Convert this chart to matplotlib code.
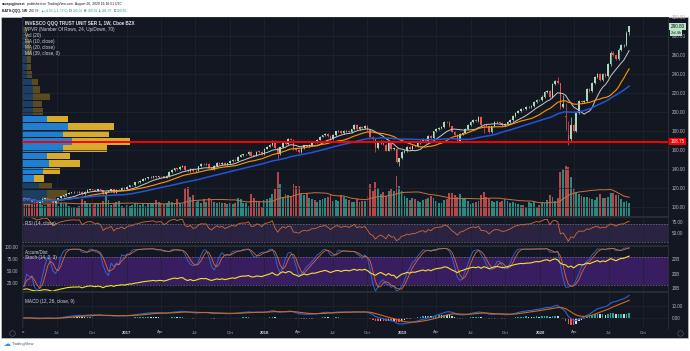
import numpy as np
import pandas as pd
import matplotlib
matplotlib.use("Agg")
import matplotlib.pyplot as plt
import matplotlib.dates as mdates
import matplotlib.transforms as mtransforms
from matplotlib.lines import Line2D
from matplotlib.patches import Rectangle
from matplotlib.ticker import FixedLocator, FixedFormatter

plt.rcParams['font.family'] = ['Liberation Sans', 'DejaVu Sans']

# BATS:QQQ weekly closes, week of 2016-04-04 .. week of 2020-08-24
closes_2016 = [107.6, 109.2, 108.0, 105.6,
               105.1, 104.3, 105.6, 108.8, 109.0,
               108.7, 106.9, 104.4, 107.3,
               109.0, 111.3, 112.4, 114.0,
               114.9, 115.4, 115.8, 115.6, 116.2,
               113.5, 116.0, 118.2, 118.7,
               118.3, 117.3, 118.8, 117.7, 113.7,
               116.3, 116.6, 118.8, 114.9,
               118.0, 118.2, 120.2, 118.5]
closes_2017 = [121.3, 123.0, 123.1, 125.9, 126.4,
               127.9, 129.6, 130.3, 131.2,
               131.6, 132.2, 131.4, 132.4,
               132.3, 130.8, 132.7, 137.0,
               139.1, 140.7, 139.8, 142.5, 143.2,
               138.9, 137.9, 140.1, 137.6,
               138.4, 142.8, 145.2, 145.0, 145.2,
               141.6, 140.0, 143.1, 146.4,
               145.0, 146.9, 144.6, 146.0,
               148.5, 149.8, 149.0, 153.1, 155.0,
               155.4, 155.5, 157.9, 154.3,
               154.2, 158.5, 158.2, 156.1]
closes_2018 = [161.7, 163.7, 165.4, 169.9, 162.0,
               155.5, 162.8, 168.6, 166.2,
               172.0, 171.2, 160.7, 160.2,
               158.3, 162.5, 165.0, 163.8, 165.4,
               169.1, 168.9, 171.2, 174.3,
               175.6, 176.9, 174.6, 171.6,
               175.7, 179.8, 180.0, 178.0, 180.0,
               180.5, 179.2, 181.8, 186.3,
               182.0, 184.4, 183.4, 185.8,
               180.9, 174.0, 171.6, 162.4, 167.2,
               169.9, 165.9, 159.4, 168.6,
               161.4, 161.5, 147.6, 151.2, 158.2]
closes_2019 = [159.2, 163.6, 161.3, 164.7,
               164.5, 167.6, 170.0, 171.8,
               168.3, 175.2, 172.8, 179.7,
               182.3, 183.2, 184.2, 189.6, 189.4,
               185.0, 179.6, 176.1, 169.9,
               177.1, 178.5, 182.3, 186.7,
               189.6, 191.8, 190.4, 194.6, 186.6,
               186.3, 185.0, 179.3, 185.0,
               189.5, 190.0, 188.9, 186.4, 187.2,
               189.6, 191.8, 196.3, 199.7,
               201.3, 203.8, 203.3, 205.6,
               205.8, 206.5, 210.7, 213.0, 212.6]
closes_2020 = [216.6, 221.1, 222.2, 216.2,
               229.7, 233.1, 230.8, 205.2,
               208.7, 194.5, 170.7, 186.4, 180.2,
               198.9, 212.0, 211.0, 212.0,
               224.0, 222.0, 231.0, 237.0,
               240.5, 234.0, 240.5, 238.0, 250.5,
               263.0, 260.5, 256.0, 266.0,
               270.5, 271.0, 284.0, 290.8]

# weekly volume, millions of shares
volumes_2016 = [140, 130, 150, 170, 160, 150, 140, 130, 120, 140, 170, 260, 190,
                120, 150, 140, 160, 120, 110, 110, 100, 120, 200, 180, 150, 140,
                130, 150, 140, 150, 180, 250, 190, 130, 150, 170, 180, 120, 100]
volumes_2017 = [130, 120, 130, 150, 160, 130, 140, 120, 140, 150, 160, 190, 170,
                150, 140, 150, 180, 170, 160, 200, 150, 140, 340, 350, 230, 250,
                170, 180, 160, 200, 170, 220, 200, 170, 150, 170, 150, 160, 140,
                150, 140, 150, 220, 200, 160, 150, 120, 260, 220, 180, 170, 110]
volumes_2018 = [190, 200, 220, 260, 320, 520, 380, 230, 260, 250, 240, 380, 360,
                360, 260, 250, 280, 220, 200, 190, 170, 190, 200, 210, 230, 250,
                180, 190, 180, 250, 230, 200, 190, 170, 170, 200, 170, 180, 180,
                240, 380, 300, 400, 330, 260, 290, 240, 300, 320, 300, 480, 360, 300]
volumes_2019 = [240, 210, 190, 220, 200, 180, 170, 190, 200, 210, 240, 220,
                180, 160, 150, 190, 200, 280, 270, 250, 230, 260, 210, 220, 180,
                140, 160, 170, 180, 250, 290, 230, 220, 180, 170, 180, 170, 180,
                200, 180, 160, 170, 150, 140, 130, 130, 110, 170, 150, 170, 110, 130]
volumes_2020 = [170, 160, 190, 250, 230, 180, 220, 520, 560, 600, 580, 470, 330,
                290, 260, 240, 230, 230, 220, 200, 190, 230, 260, 220, 210, 230,
                270, 280, 250, 250, 200, 170, 180, 150]

closes = closes_2016 + closes_2017 + closes_2018 + closes_2019 + closes_2020
volumes = volumes_2016 + volumes_2017 + volumes_2018 + volumes_2019 + volumes_2020

first_open = 109.6
open_marks = {'2020-03-09': 196.0, '2020-03-16': 176.0, '2020-03-23': 172.0,
              '2020-08-24': 285.06}
low_marks = {'2016-06-20': 102.7, '2018-02-05': 150.6, '2018-10-22': 158.5,
             '2018-12-17': 146.0, '2018-12-24': 143.5, '2019-05-27': 169.3,
             '2019-08-05': 178.0, '2020-02-24': 203.0, '2020-03-09': 181.0,
             '2020-03-16': 164.9, '2020-03-23': 169.0, '2020-08-24': 281.37}
high_marks = {'2020-02-17': 237.5, '2020-02-24': 231.0, '2020-03-02': 218.0,
              '2020-03-09': 210.0, '2020-03-16': 191.0, '2020-03-23': 195.0,
              '2020-08-24': 290.92}

# volume profile (24 rows, bottom row first): up / down volume, relative
vp_up = [20, 25, 17, 12, 21, 27, 25, 41, 50, 41, 46, 25,
         11, 11, 11, 11, 10, 5, 5, 5, 5, 4, 3, 2]
vp_down = [14, 20, 13, 10, 17, 31, 23, 44, 58, 46, 46, 21,
           10, 9, 17, 7, 6, 5, 4, 4, 5, 4, 3, 3]
va_rows = (3, 11)
poc_price = 168.75
ad_start = 17.9e9

# ---------------------------------------------------------------- data prep
dates = pd.date_range('2016-04-04', periods=len(closes), freq='W-MON')
close = pd.Series(closes, index=dates, dtype=float)
opn = close.shift(1)
opn.iloc[0] = first_open
for d, v in open_marks.items():
    opn[pd.Timestamp(d)] = v
wick_pad = 0.005
high = np.maximum(opn, close) * (1 + wick_pad)
low = np.minimum(opn, close) * (1 - wick_pad)
for d, v in low_marks.items():
    low[pd.Timestamp(d)] = v
for d, v in high_marks.items():
    high[pd.Timestamp(d)] = v
vol = pd.Series(volumes, index=dates, dtype=float) * 1e6

ma10 = close.rolling(10, min_periods=1).mean()
ma20 = close.rolling(20, min_periods=1).mean()
ma39 = close.rolling(39, min_periods=1).mean()
vol_ma = vol.rolling(20, min_periods=1).mean()

delta = close.diff()
gain = delta.clip(lower=0).ewm(alpha=1 / 14, adjust=False).mean()
loss = (-delta.clip(upper=0)).ewm(alpha=1 / 14, adjust=False).mean()
rsi = 100 - 100 / (1 + gain / loss)

ll = low.rolling(14, min_periods=1).min()
hh = high.rolling(14, min_periods=1).max()
stk = (100 * (close - ll) / (hh - ll)).rolling(3, min_periods=1).mean()
std = stk.rolling(3, min_periods=1).mean()

clv = ((close - low) - (high - close)) / (high - low)
ad = ad_start + (clv * vol).cumsum()

macd = close.ewm(span=12, adjust=False).mean() - close.ewm(span=26, adjust=False).mean()
signal = macd.ewm(span=9, adjust=False).mean()
hist = macd - signal
prev = hist.shift(1).fillna(0)
hist_col = np.where(hist >= 0, np.where(hist >= prev, '#26a69a', '#b2dfdb'),
                    np.where(hist < prev, '#ef5350', '#ffcdd2'))

x = mdates.date2num(dates)
up = close >= opn
cndl_col = np.where(up, '#a8d8b9', '#ef5350')
vol_col = np.where(up, '#2a8a80', '#b4474a')

# ---------------------------------------------------------------- figure
W, H = 690, 351
BG = '#131722'
GRID = '#1f2430'
TXT = '#b2b5be'
fig = plt.figure(figsize=(W / 100, H / 100), dpi=100, facecolor='white')
renderer = fig.canvas.get_renderer()

xmin = mdates.date2num(pd.Timestamp('2016-03-30'))
xmax = mdates.date2num(pd.Timestamp('2020-12-05'))
qdates = pd.date_range('2016-04-01', '2020-10-01', freq='QS')
qx = mdates.date2num(qdates)


def px(xp, yp):
    return xp / W, 1 - yp / H


def pane(top, bottom, left=22, right=668):
    return fig.add_axes([left / W, 1 - bottom / H, (right - left) / W, (bottom - top) / H])


def style(a, face=BG):
    a.set_facecolor(face)
    for s in a.spines.values():
        s.set_color('#2a2e39')
        s.set_linewidth(0.6)
    a.set_xlim(xmin, xmax)
    a.set_xticks(qx)
    a.tick_params(axis='x', length=0, labelbottom=False)
    a.tick_params(axis='y', length=0, labelsize=3.3, colors=TXT, pad=2.5)
    a.yaxis.tick_right()


def text_row(pieces, xp, yp, size):
    # write pieces one after the other on one line
    for t, c, w, gap in pieces:
        tx = fig.text(*px(xp, yp), t, fontsize=size, color=c, fontweight=w, va='center')
        xp += tx.get_window_extent(renderer).width + gap


fig.add_artist(Rectangle(px(1, 338), 687 / W, (338 - 17) / H, transform=fig.transFigure,
                         facecolor=BG, edgecolor='#cfd2d6', lw=0.4, zorder=-5))

# volume layer
axv = pane(17, 216)
style(axv)
axv.set_yticks([])
axv.grid(axis='x', color=GRID, lw=0.5)
axv.set_ylim(0, vol.max() * 198 / 50)
axv.bar(x, vol, width=5, color=vol_col, linewidth=0)
axv.plot(x, vol_ma, color='#c5733a', lw=0.7)

# price layer
ax = pane(17, 216)
style(ax, face='none')
ax.set_ylim(90.5, 300.5)
ax.set_yticks(np.arange(100, 301, 20))
ax.yaxis.set_major_formatter(plt.FormatStrFormatter('%.2f'))
ax.grid(axis='y', color=GRID, lw=0.5)

trans = mtransforms.blended_transform_factory(ax.transAxes, ax.transData)
vp_lo, vp_hi = low.min(), high.max()
row_h = (vp_hi - vp_lo) / len(vp_up)
tot = np.array(vp_up) + np.array(vp_down)
scale = 0.167 / tot.max()
for i, (u, dn) in enumerate(zip(vp_up, vp_down)):
    yc = vp_lo + (i + 0.5) * row_h
    inside = va_rows[0] <= i <= va_rows[1]
    cu = '#1f7fd0' if inside else '#1b3e62'
    cd = '#d9ab2c' if inside else '#5a4a22'
    ax.barh(yc, u * scale, left=0, height=row_h * 0.88, color=cu, transform=trans, zorder=1, lw=0)
    ax.barh(yc, dn * scale, left=u * scale, height=row_h * 0.88, color=cd, transform=trans, zorder=1, lw=0)

ax.vlines(x, low, high, colors=cndl_col, lw=0.5, zorder=3)
ax.bar(x, np.maximum((close - opn).abs(), 0.4), bottom=np.minimum(opn, close), width=4.2,
       color=cndl_col, linewidth=0, zorder=4)
ax.plot(x, ma10, color='#c8c8c8', lw=0.7, zorder=5)
ax.plot(x, ma20, color='#ff9800', lw=0.8, zorder=5)
ax.plot(x, ma39, color='#2155d9', lw=1.1, zorder=5)
ax.axhline(poc_price, color='#ff0000', lw=1.4, zorder=6)
ax.set_ylim(90.5, 300.5)

tag = mtransforms.blended_transform_factory(ax.transAxes, ax.transData)
ax.text(1.004, close.iloc[-1], '%.2f' % close.iloc[-1], transform=tag, fontsize=3.3, color=BG,
        va='center', ha='left', zorder=10,
        bbox=dict(boxstyle='square,pad=0.25', fc='#b9e5c6', ec='none'))
ax.text(1.004, close.iloc[-1] - 6.8, '2d 4h', transform=tag, fontsize=3.0, color=BG,
        va='center', ha='left', zorder=10,
        bbox=dict(boxstyle='square,pad=0.25', fc='#b9e5c6', ec='none'))
ax.text(1.004, poc_price, '%.2f' % poc_price, transform=tag, fontsize=3.3, color='white',
        va='center', ha='left', zorder=10,
        bbox=dict(boxstyle='square,pad=0.25', fc='#ff0000', ec='none'))

# RSI
axr = pane(217, 245)
style(axr)
axr.set_ylim(22.7, 86.4)
axr.set_yticks([50, 75])
axr.yaxis.set_major_formatter(plt.FormatStrFormatter('%.2f'))
axr.grid(axis='x', color=GRID, lw=0.5)
axr.axhspan(30, 70, color='#2a2342', lw=0, zorder=0)
for lv in (30, 70):
    axr.axhline(lv, color='#787b86', lw=0.5, ls=(0, (2, 2)))
axr.plot(x, rsi, color='#d9692e', lw=0.6)

# Stoch + Accum/Dist
axs = pane(246, 291)
style(axs)
axs.yaxis.tick_left()
axs.set_ylim(8.3, 102.1)
axs.set_yticks([25, 50, 75, 100])
axs.yaxis.set_major_formatter(plt.FormatStrFormatter('%.2f'))
axs.grid(axis='x', color=GRID, lw=0.5)
axs.axhspan(20, 80, color='#381e60', lw=0, zorder=0)
for lv in (20, 80):
    axs.axhline(lv, color='#787b86', lw=0.5, ls=(0, (2, 2)))
axs.plot(x, stk, color='#2f6fdc', lw=0.6)
axs.plot(x, std, color='#e06a2a', lw=0.6)
axa = axs.twinx()
style(axa, face='none')
axa.set_ylim(17.59e9, 23.79e9)
axa.yaxis.set_major_locator(FixedLocator([18e9, 20e9, 22e9]))
axa.yaxis.set_major_formatter(FixedFormatter(['18B', '20B', '22B']))
axa.plot(x, ad, color='#f5e12b', lw=0.8)

# MACD
axm = pane(292, 328)
style(axm)
axm.set_ylim(-8.3, 21.7)
axm.set_yticks([0, 10])
axm.yaxis.set_major_formatter(plt.FormatStrFormatter('%.2f'))
axm.grid(axis='x', color=GRID, lw=0.5)
axm.grid(axis='y', color=GRID, lw=0.5)
axm.bar(x, hist, width=4.2, color=hist_col, linewidth=0)
axm.plot(x, macd, color='#2a62d6', lw=0.8)
axm.plot(x, signal, color='#d2691e', lw=0.8)

# time axis
axt = pane(328, 337)
axt.set_facecolor(BG)
axt.set_xlim(xmin, xmax)
axt.set_ylim(0, 1)
axt.set_xticks([])
axt.set_yticks([])
for s in axt.spines.values():
    s.set_visible(False)
for qd, xx in zip(qdates, qx):
    year = qd.month == 1
    axt.text(xx, 0.5, str(qd.year) if year else qd.strftime('%b'), ha='center', va='center',
             fontsize=3.1, color='#d1d4dc' if year else TXT, fontweight='bold' if year else 'normal',
             clip_on=True)
for xp in (12, 680):
    fig.add_artist(Line2D([xp / W], [1 - 333 / H], marker='o', ms=4, mfc='none', mec='#50535e',
                          mew=0.5, transform=fig.transFigure))

# legends
legend_main = ['VPVR (Number Of Rows, 24, Up/Down, 70)', 'Vol (20)',
               'MA (10, close)', 'MA (20, close)', 'MA (39, close, 0)']
fig.text(*px(25, 23), 'INVESCO QQQ TRUST UNIT SER 1, 1W, Cboe BZX', fontsize=3.3,
         color='#e0e3eb', fontweight='bold', va='center')
for yy, t in zip([29, 35, 42, 48, 54], legend_main):
    fig.text(*px(25, yy), t, fontsize=3.3, color='#d1d4dc', va='center')
fig.text(*px(25, 223), 'RSI (14, close)', fontsize=3.3, color='#d1d4dc', va='center')
fig.text(*px(25, 252), 'Accum/Dist', fontsize=3.3, color='#d1d4dc', va='center')
fig.text(*px(25, 257), 'Stoch (14, 3, 3)', fontsize=3.3, color='#d1d4dc', va='center')
fig.text(*px(25, 302), 'MACD (12, 26, close, 9)', fontsize=3.3, color='#d1d4dc', va='center')

# header
DARK = '#131722'
TEAL = '#26a69a'
text_row([('savepigjinvest', DARK, 'bold', 1.0),
          ('published on TradingView.com, August 26, 2020 16:16:51 UTC', DARK, 'normal', 0)],
         2, 4.5, 2.4)
text_row([('BATS:QQQ, 1W', DARK, 'bold', 1.5), ('290.79', DARK, 'normal', 1.0),
          ('\u25b2', TEAL, 'normal', 0.6), ('+4.93 (+1.72%)', TEAL, 'normal', 1.2),
          ('O:', DARK, 'normal', 0.3), ('285.06', TEAL, 'normal', 1.0),
          ('H:', DARK, 'normal', 0.3), ('290.92', TEAL, 'normal', 1.0),
          ('L:', DARK, 'normal', 0.3), ('281.37', TEAL, 'normal', 1.0),
          ('C:', DARK, 'normal', 0.3), ('290.80', TEAL, 'normal', 0)],
         2, 11, 2.4)

fig.text(*px(4, 344), '\u2601', fontsize=5, color='#2196f3', va='center')
fig.text(*px(12, 344), 'TradingView', fontsize=3.0, color='#50535e', va='center')

fig.savefig('out.png', dpi=100, facecolor='white')
